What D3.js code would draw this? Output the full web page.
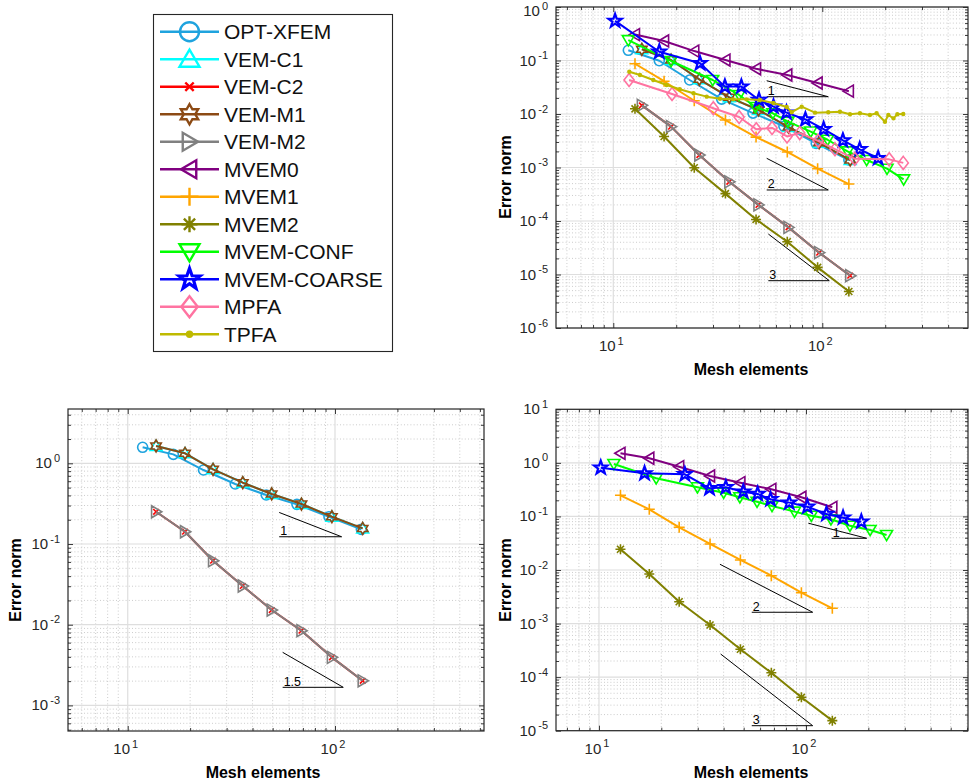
<!DOCTYPE html>
<html><head><meta charset="utf-8">
<script src="https://cdn.jsdelivr.net/npm/d3@7"></script>
<style>
body{margin:0;background:#fff}
svg{display:block}
text{font-family:"Liberation Sans",Arial,Helvetica,sans-serif}
</style>
</head><body>
<svg id="chart" width="969" height="784"></svg>
<script>
// ---------------- DATA ----------------
const seriesNames = ["OPT-XFEM","VEM-C1","VEM-C2","VEM-M1","VEM-M2","MVEM0","MVEM1","MVEM2","MVEM-CONF","MVEM-COARSE","MPFA","TPFA"];
const seriesColors = ["#1FA3DE","#00FFFF","#FF0000","#8C4A14","#808080","#800080","#FFA500","#808000","#00FF00","#0000FF","#FF73A1","#BFBA00"];
const seriesMarkers = ["o","^","x","h",">","<","+","*","v","p","d","."];

// mesh elements (x) per family
const xOpt    = [11.8, 16.6, 23.2, 33, 46.6, 65.5, 93.5, 134];
const xVem    = [13.7, 18.9, 25.8, 35.9, 49.5, 68.9, 96.6, 136];
const xMvem   = [12.7, 17.5, 24.4, 34.4, 48.2, 68, 95, 134];
const xConf   = [11.8, 18.9, 29.9, 40, 47.9, 58, 68.5, 88, 106, 132, 163, 204, 245];
const xCoarse = [10.2, 16.6, 26, 34.2, 41, 49.8, 58.4, 67.4, 83, 101.5, 125.5, 151, 185];
const xMpfa   = [11.9, 19.1, 30.1, 40, 48.3, 57.5, 67.8, 78, 95.5, 115, 143, 209, 244];
const xTpfa   = [11.93, 13.42, 15.54, 18.0, 20.8, 24.2, 28.0, 32.4, 37.5, 43.4, 50.3, 58.3, 67.6, 71.4, 79.7, 92.3, 106.8, 121.5, 135.7, 151.4, 169, 182, 199.5, 207, 219, 228.6, 244];

// top-right panel error norms
const trOpt    = [0.155, 0.099, 0.0432, 0.019, 0.0104, 0.0059, 0.00283, 0.00138];
const trVemC1  = [0.162, 0.102, 0.0445, 0.0205, 0.0119, 0.0057, 0.0029, 0.00138];
const trVemC2  = [0.0145, 0.0058, 0.00171, 0.00054, 0.0002, 7.6e-5, 2.56e-5, 9.5e-6];
const trVemM1  = [0.162, 0.102, 0.0445, 0.0205, 0.0119, 0.0057, 0.0029, 0.00138];
const trVemM2  = [0.0145, 0.0058, 0.00171, 0.00054, 0.0002, 7.6e-5, 2.56e-5, 9.5e-6];
const trMvem0  = [0.305, 0.232, 0.15, 0.102, 0.07, 0.0536, 0.038, 0.0267];
const trMvem1  = [0.087, 0.041, 0.0177, 0.0077, 0.0037, 0.00195, 0.00095, 0.00049];
const trMvem2  = [0.0125, 0.0038, 0.00099, 0.000325, 0.000107, 4.1e-5, 1.36e-5, 4.8e-6];
const trConf   = [0.24, 0.098, 0.0432, 0.0227, 0.0135, 0.0103, 0.0072, 0.0047, 0.0033, 0.002, 0.00138, 0.00095, 0.0006];
const trCoarse = [0.55, 0.146, 0.0886, 0.0325, 0.0325, 0.0183, 0.0137, 0.0106, 0.0079, 0.0052, 0.0032, 0.00219, 0.00149];
const trMpfa   = [0.0432, 0.0237, 0.0128, 0.0088, 0.0052, 0.0055, 0.0038, 0.0044, 0.00315, 0.0022, 0.00145, 0.00142, 0.00122];
const trTpfa   = [0.0618, 0.0536, 0.0432, 0.0348, 0.029, 0.0244, 0.0211, 0.0193, 0.0188, 0.0188, 0.0183, 0.0161, 0.0135, 0.0108, 0.0137, 0.0106, 0.0108, 0.011, 0.00987, 0.0103, 0.00958, 0.0103, 0.00718, 0.00958, 0.0083, 0.00987, 0.01];

// bottom-left panel
const blOpt   = [1.58, 1.29, 0.826, 0.554, 0.405, 0.31, 0.218, 0.152];
const blVemC1 = [1.64, 1.33, 0.843, 0.575, 0.417, 0.313, 0.218, 0.156];
const blVemC2 = [0.251, 0.142, 0.0621, 0.0302, 0.0152, 0.00843, 0.00394, 0.00202];
const blVemM1 = [1.64, 1.33, 0.843, 0.575, 0.417, 0.313, 0.218, 0.156];
const blVemM2 = [0.251, 0.142, 0.0621, 0.0302, 0.0152, 0.00843, 0.00394, 0.00202];

// bottom-right panel
const brMvem0  = [1.51, 1.22, 0.849, 0.569, 0.427, 0.321, 0.228, 0.148];
const brMvem1  = [0.248, 0.136, 0.0627, 0.0306, 0.0154, 0.00783, 0.00377, 0.00193];
const brMvem2  = [0.0244, 0.0084, 0.00256, 0.00094, 0.000331, 0.000121, 4.2e-5, 1.54e-5];
const brConf   = [0.953, 0.515, 0.35, 0.277, 0.228, 0.188, 0.157, 0.123, 0.103, 0.0885, 0.0672, 0.0558, 0.045];
const brCoarse = [0.812, 0.638, 0.612, 0.335, 0.35, 0.29, 0.263, 0.209, 0.181, 0.152, 0.111, 0.0948, 0.0798];

// tick label exponents
const xTickExps   = [1, 2];
const trYTickExps = [0, -1, -2, -3, -4, -5, -6];
const blYTickExps = [0, -1, -2, -3];
const brYTickExps = [1, 0, -1, -2, -3, -4, -5];

// slope reference triangles: [x0, x1, xh(start of base), yTop, yBase, label]
const trSlopes = [[54.2, 106.8, 54.2, 0.0419, 0.02105, "1"], [54.2, 106.8, 54.2, 0.001486, 0.00038, "2"], [55.2, 108, 55.2, 5.71e-5, 7.66e-6, "3"]];
const blSlopes = [[53.8, 107.6, 53.8, 0.246, 0.123, "1"], [55.9, 109.6, 55.9, 0.00455, 0.001676, "1.5"]];
const brSlopes = [[102.6, 196.3, 133, 0.0748, 0.0391, "1"], [38.4, 107.7, 54.7, 0.0128, 0.001626, "2"], [38.7, 107.7, 54.7, 2.7e-4, 1.24e-5, "3"]];

// ---------------- LAYOUT ----------------
const panels = [
  {left:556, right:968, top:7, bottom:328, xDomain:[5.32, 497.9], yDomain:[1e-6, 1], yExps:trYTickExps,
   ylab:[505, 177], xlab:751, slopes:trSlopes,
   series:[[0,xOpt,trOpt],[1,xVem,trVemC1],[2,xVem,trVemC2],[3,xVem,trVemM1],[4,xVem,trVemM2],[5,xMvem,trMvem0],[6,xMvem,trMvem1],[7,xMvem,trMvem2],[8,xConf,trConf],[9,xCoarse,trCoarse],[10,xMpfa,trMpfa],[11,xTpfa,trTpfa]]},
  {left:68, right:484, top:409, bottom:731, xDomain:[5.15, 523.4], yDomain:[4.82e-4, 4.71], yExps:blYTickExps,
   ylab:[14.5, 580], xlab:263, slopes:blSlopes,
   series:[[0,xOpt,blOpt],[1,xVem,blVemC1],[2,xVem,blVemC2],[3,xVem,blVemM1],[4,xVem,blVemM2]]},
  {left:556, right:968, top:409.3, bottom:730.7, xDomain:[6.2, 606], yDomain:[1e-5, 10], yExps:brYTickExps,
   ylab:[505, 580], xlab:751, slopes:brSlopes,
   series:[[5,xMvem,brMvem0],[6,xMvem,brMvem1],[7,xMvem,brMvem2],[8,xConf,brConf],[9,xCoarse,brCoarse]]}
];

const svg = d3.select("#chart");
const AXC = "#262626";

function markerD(type, s) {
  const r = s / 2;
  const poly = pts => "M" + pts.map(p => p[0].toFixed(2) + "," + p[1].toFixed(2)).join("L") + "Z";
  const rot = (pts, a) => pts.map(([x, y]) => [x * Math.cos(a) - y * Math.sin(a), x * Math.sin(a) + y * Math.cos(a)]);
  const tri = [[0, -0.95 * r], [r, 0.75 * r], [-r, 0.75 * r]];
  const star = (n, ri) => { const p = []; for (let i = 0; i < 2 * n; i++) { const a = -Math.PI / 2 + i * Math.PI / n; const rr = i % 2 ? ri : r; p.push([rr * Math.cos(a), rr * Math.sin(a)]); } return poly(p); };
  switch (type) {
    case "o": return `M${r},0A${r},${r} 0 1,1 ${-r},0A${r},${r} 0 1,1 ${r},0Z`;
    case "^": return poly(tri);
    case "v": return poly(rot(tri, Math.PI));
    case ">": return poly(rot(tri, Math.PI / 2));
    case "<": return poly(rot(tri, -Math.PI / 2));
    case "x": { const a = r * 0.7; return `M${-a},${-a}L${a},${a}M${-a},${a}L${a},${-a}`; }
    case "+": return `M${-r},0L${r},0M0,${-r}L0,${r}`;
    case "*": { const a = r * 0.7; return `M${-r},0L${r},0M0,${-r}L0,${r}M${-a},${-a}L${a},${a}M${-a},${a}L${a},${-a}`; }
    case "d": return poly([[0, -r], [0.78 * r, 0], [0, r], [-0.78 * r, 0]]);
    case "h": return star(6, r / Math.sqrt(3));
    case "p": return star(5, r * 0.40);
    case ".": return `M${r},0A${r},${r} 0 1,1 ${-r},0A${r},${r} 0 1,1 ${r},0Z`;
  }
}
const plotSize = {"o":10, "^":12, "v":12, ">":12, "<":12, "x":8, "+":11, "*":10, "d":13, "h":12, "p":14, ".":2.8};
const legSize  = {"o":19, "^":20, "v":20, ">":18, "<":18, "x":12, "+":18, "*":16, "d":21, "h":20, "p":22, ".":5};
const plotStroke = m => m === "p" ? 2.2 : 1.6;
const legStroke  = m => m === "p" ? 3.2 : 2.4;

function powText(g, x, y, exp, anchor) {
  const t = g.append("text").attr("x", x).attr("y", y).attr("text-anchor", anchor)
    .attr("fill", AXC).style("font-size", "15px");
  t.append("tspan").text("10");
  t.append("tspan").attr("dy", -6.5).attr("dx", 2).style("font-size", "11px").text(String(exp));
  return t;
}

const isMajor = v => Math.abs(Math.log10(v) - Math.round(Math.log10(v))) < 1e-6;

panels.forEach(p => {
  const x = d3.scaleLog().domain(p.xDomain).range([p.left, p.right]);
  const y = d3.scaleLog().domain(p.yDomain).range([p.bottom, p.top]);
  const g = svg.append("g");
  const xt = x.ticks(), yt = y.ticks();
  const xMaj = xt.filter(isMajor), xMin = xt.filter(v => !isMajor(v));
  const yMaj = yt.filter(isMajor), yMin = yt.filter(v => !isMajor(v));

  // minor grid
  const grid = g.append("g");
  grid.selectAll(".gxm").data(xMin).join("line").attr("x1", d => x(d)).attr("x2", d => x(d))
    .attr("y1", p.top).attr("y2", p.bottom).attr("stroke", "#c6c6c6").attr("stroke-width", 0.9).attr("stroke-dasharray", "1,2.2");
  grid.selectAll(".gym").data(yMin).join("line").attr("y1", d => y(d)).attr("y2", d => y(d))
    .attr("x1", p.left).attr("x2", p.right).attr("stroke", "#c6c6c6").attr("stroke-width", 0.9).attr("stroke-dasharray", "1,2.2");
  // major grid
  grid.selectAll(".gxM").data(xMaj).join("line").attr("x1", d => x(d)).attr("x2", d => x(d))
    .attr("y1", p.top).attr("y2", p.bottom).attr("stroke", "#dedede").attr("stroke-width", 1.2);
  grid.selectAll(".gyM").data(yMaj).join("line").attr("y1", d => y(d)).attr("y2", d => y(d))
    .attr("x1", p.left).attr("x2", p.right).attr("stroke", "#dedede").attr("stroke-width", 1.2);

  // ticks (inside, on all four sides)
  const ax = [
    [d3.axisBottom, x, xMaj, xMin, `translate(0,${p.bottom})`],
    [d3.axisTop, x, xMaj, xMin, `translate(0,${p.top})`],
    [d3.axisLeft, y, yMaj, yMin, `translate(${p.left},0)`],
    [d3.axisRight, y, yMaj, yMin, `translate(${p.right},0)`]
  ];
  ax.forEach(([fn, sc, maj, min, tr]) => {
    [[maj, -5], [min, -3]].forEach(([vals, sz]) => {
      const a = g.append("g").attr("transform", tr)
        .call(fn(sc).tickValues(vals).tickSize(sz).tickFormat(() => ""));
      a.select(".domain").remove();
      a.selectAll("line").attr("stroke", AXC).attr("stroke-width", 0.9);
    });
  });

  // box
  g.append("rect").attr("x", p.left).attr("y", p.top).attr("width", p.right - p.left).attr("height", p.bottom - p.top)
    .attr("fill", "none").attr("stroke", AXC).attr("stroke-width", 1.2);

  // tick labels
  xTickExps.forEach(e => powText(g, x(Math.pow(10, e)) - 2, p.bottom + 23, e, "middle"));
  p.yExps.forEach(e => powText(g, p.left - 8, Math.max(y(Math.pow(10, e)) + 5, 16), e, "end"));

  // axis labels
  g.append("text").attr("x", p.xlab).attr("y", p.bottom + 47).attr("text-anchor", "middle")
    .style("font-size", "16px").style("font-weight", "bold").attr("fill", "#000").text("Mesh elements");
  g.append("text").attr("transform", `translate(${p.ylab[0] + 6},${p.ylab[1]}) rotate(-90)`).attr("text-anchor", "middle")
    .style("font-size", "16px").style("font-weight", "bold").attr("fill", "#000").text("Error norm");

  // slope triangles
  const sg = g.append("g");
  p.slopes.forEach(([x0, x1, xh, yTop, yBase, lab]) => {
    sg.append("line").attr("x1", x(x0)).attr("y1", y(yTop)).attr("x2", x(x1)).attr("y2", y(yBase))
      .attr("stroke", "#000").attr("stroke-width", 1);
    sg.append("line").attr("x1", x(xh)).attr("y1", y(yBase)).attr("x2", x(x1)).attr("y2", y(yBase))
      .attr("stroke", "#000").attr("stroke-width", 1);
    sg.append("text").attr("x", x(x0 > xh ? x0 : xh) + 1).attr("y", y(yBase) - 1.5)
      .style("font-size", "12.5px").attr("fill", "#000").text(lab);
  });

  // series
  const line = d3.line().x(d => x(d[0])).y(d => y(d[1]));
  p.series.forEach(([idx, xs, ys]) => {
    const pts = xs.map((v, i) => [v, ys[i]]);
    const col = seriesColors[idx], mk = seriesMarkers[idx];
    const sgrp = g.append("g");
    sgrp.append("path").attr("d", line(pts)).attr("fill", "none").attr("stroke", col).attr("stroke-width", 2)
      .attr("stroke-linejoin", "round");
    sgrp.selectAll(".m").data(pts).join("path")
      .attr("transform", d => `translate(${x(d[0])},${y(d[1])})`)
      .attr("d", markerD(mk, plotSize[mk]))
      .attr("fill", mk === "." ? col : "none").attr("stroke", col).attr("stroke-width", plotStroke(mk))
      .attr("stroke-linejoin", "miter");
  });
});

// ---------------- LEGEND ----------------
const lg = svg.append("g");
lg.append("rect").attr("x", 153.5).attr("y", 14.5).attr("width", 239).attr("height", 337)
  .attr("fill", "#fff").attr("stroke", AXC).attr("stroke-width", 1.1);
seriesNames.forEach((name, i) => {
  const cy = 31.7 + i * 27.51;
  const col = seriesColors[i], mk = seriesMarkers[i];
  lg.append("line").attr("x1", 160).attr("x2", 219).attr("y1", cy).attr("y2", cy).attr("stroke", col).attr("stroke-width", 2.5);
  lg.append("path").attr("transform", `translate(189.5,${cy})`).attr("d", markerD(mk, legSize[mk]))
    .attr("fill", mk === "." ? col : "none").attr("stroke", col).attr("stroke-width", legStroke(mk));
  lg.append("text").attr("x", 224).attr("y", cy + 7.5).style("font-size", "21px").attr("fill", "#111").text(name);
});
</script>
</body></html>
